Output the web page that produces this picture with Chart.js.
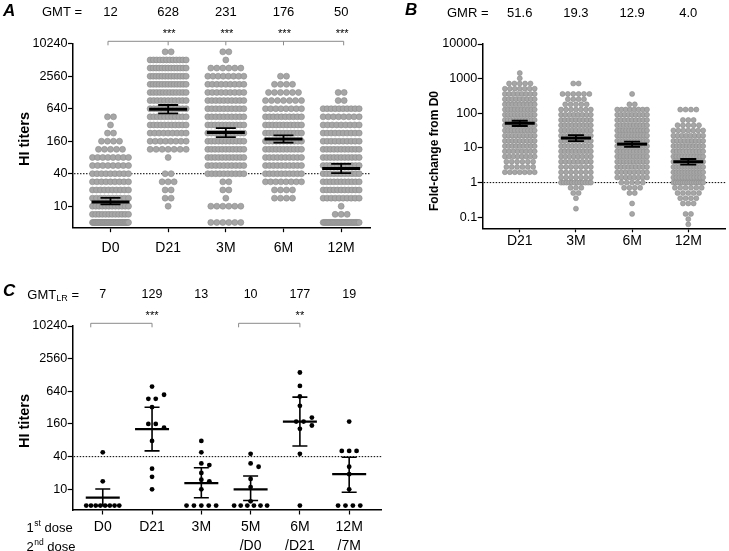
<!DOCTYPE html>
<html>
<head>
<meta charset="utf-8">
<script src="https://cdn.jsdelivr.net/npm/chart.js@4.4.1/dist/chart.umd.min.js"></script>
<style>
  body { margin: 0; background: #fff; }
  #wrap { position: relative; width: 729px; height: 551px; }
  #wrap canvas { position: absolute; left: 0; top: 0; }
</style>
</head>
<body>
<div id="wrap">
  <canvas id="chartA" width="729" height="551"></canvas>
  <canvas id="chartB" width="729" height="551"></canvas>
  <canvas id="chartC" width="729" height="551"></canvas>
</div>
<script>
'use strict';

const W = 729, H = 551;
const FONT = '"Liberation Sans", Arial, sans-serif';

// --- Panel A: HI titers per visit ---
const titerLevels = [5, 7.07, 10, 14.1, 20, 28.3, 40, 56.6, 80, 113, 160, 226, 320, 453, 640, 905, 1280, 1810, 2560, 3620, 5120, 7240, 10240];
const groupsA = ['D0', 'D21', '3M', '6M', '12M'];
const gmtA = [12, 628, 231, 176, 50];
const ciLowA = [10.8, 525, 190, 150, 41];
const ciHighA = [14.3, 750, 280, 205, 61];
const sigA = ['', '***', '***', '***', '***'];
const yTicksA = [10, 40, 160, 640, 2560, 10240];
// subjects per titer level (same order as titerLevels)
const countsA_D0  = [45, 12, 12, 10, 10, 9, 9, 8, 8, 5, 4, 2, 1, 2, 0, 0, 0, 0, 0, 0, 0, 0, 0];
const countsA_D21 = [0, 0, 1, 2, 2, 3, 2, 0, 1, 7, 8, 9, 11, 11, 11, 11, 12, 13, 13, 13, 12, 2, 0];
const countsA_3M  = [6, 0, 6, 1, 2, 2, 10, 10, 11, 11, 11, 11, 11, 10, 10, 10, 9, 9, 8, 6, 1, 2, 0];
const countsA_6M  = [0, 0, 0, 4, 4, 8, 10, 10, 10, 11, 11, 11, 11, 10, 8, 7, 6, 4, 2, 0, 0, 0, 0];
const countsA_12M = [30, 3, 1, 10, 11, 11, 11, 11, 11, 11, 10, 10, 9, 8, 10, 2, 2, 0, 0, 0, 0, 0, 0];

// --- Panel B: fold-change from D0 ---
const foldLevels = [0.0625, 0.0884, 0.125, 0.177, 0.25, 0.354, 0.5, 0.707, 1, 1.41, 2, 2.83, 4, 5.66, 8, 11.3, 16, 22.6, 32, 45.3, 64, 90.5, 128, 181, 256, 362, 512, 724, 1024, 1450];
const groupsB = ['D21', '3M', '6M', '12M'];
const gmrB = [51.6, 19.3, 12.9, 4.0];
const ciLowB = [43, 15.8, 10.8, 3.3];
const ciHighB = [61, 23.5, 15.3, 4.8];
const yTicksB = [0.1, 1, 10, 100, 1000, 10000];
const countsB_D21 = [0, 0, 0, 0, 0, 0, 0, 0, 0, 0, 7, 6, 6, 8, 8, 9, 9, 9, 10, 10, 11, 10, 10, 9, 9, 8, 7, 5, 1, 1];
const countsB_3M  = [0, 0, 0, 1, 0, 1, 2, 3, 12, 7, 7, 7, 8, 8, 9, 9, 9, 9, 9, 9, 9, 8, 7, 5, 4, 6, 0, 2, 0, 0];
const countsB_6M  = [0, 0, 1, 0, 1, 0, 2, 4, 5, 8, 8, 9, 10, 10, 10, 11, 11, 11, 11, 10, 9, 9, 8, 2, 0, 1, 0, 0, 0, 0];
const countsB_12M = [1, 1, 2, 0, 3, 4, 5, 6, 14, 11, 11, 11, 11, 11, 10, 10, 9, 8, 7, 5, 3, 0, 4, 0, 0, 0, 0, 0, 0, 0];

// --- Panel C: low responders, 1st / 2nd dose ---
const groupsC = [['D0'], ['D21'], ['3M'], ['5M', '/D0'], ['6M', '/D21'], ['12M', '/7M']];
const gmtC = [7, 129, 13, 10, 177, 19];
const ciLowC = [5, 51, 7, 6.2, 63, 8.8];
const ciHighC = [10.1, 325, 25, 17.6, 500, 39];
const yTicksC = [10, 40, 160, 640, 2560, 10240];
const titersC_D0  = [48, 14, 5, 5, 5, 5, 5, 5, 5, 5];
const titersC_D21 = [783, 553, 465, 465, 327, 160, 160, 137, 78, 24, 17, 10];
const titersC_3M  = [78, 48, 30, 28, 20, 15, 14, 10, 5, 5, 5, 5, 5];
const titersC_5M  = [45, 30, 26, 15.5, 11, 6, 5, 5, 5, 5, 5, 5];
const titersC_6M  = [1422, 806, 513, 345, 210, 177, 177, 150, 130, 45, 5];
const titersC_12M = [177, 51, 51, 51, 26, 19, 10, 5, 5, 5, 5];
const compareC = [[1, 2, '***'], [4, 5, '**']];

// --- Panel geometry (page pixels) ---
const geoA = { left: 73, right: 370, top: 43.7, bottom: 227.7, xMin: 0.35, xMax: 5.5, yMin: 4, yMax: 10240 };
const geoB = { left: 482.7, right: 728, top: 44, bottom: 228.3, xMin: 0.34, xMax: 4.67, yMin: 0.048, yMax: 10000 };
const geoC = { left: 72.7, right: 381.7, top: 326, bottom: 510, xMin: 0.39, xMax: 6.66, yMin: 4.15, yMax: 10240 };

function expand(levels, counts) {
  const out = [];
  counts.forEach((n, i) => { for (let k = 0; k < n; k++) out.push(levels[i]); });
  return out;
}

// scatter-dot layout: equal values sit in a centred row, lone points dodge neighbours
function layoutGroup(values, g, st) {
  const unit = (g.right - g.left) / (g.xMax - g.xMin);
  const ly = v => g.bottom - (Math.log(v) - Math.log(g.yMin)) / (Math.log(g.yMax) - Math.log(g.yMin)) * (g.bottom - g.top);
  const rows = new Map();
  values.forEach(v => rows.set(v, (rows.get(v) || 0) + 1));
  const order = [...rows.entries()].sort((a, b) => b[1] - a[1] || b[0] - a[0]);
  const placed = [];
  order.forEach(([v, n]) => {
    const s = n > 1 ? Math.min(st.gap, st.maxW / (n - 1)) : 0;
    const base = [];
    for (let i = 0; i < n; i++) base.push((i - (n - 1) / 2) * s);
    const y = ly(v);
    let shift = 0;
    if (st.swarm) {
      const cands = [0];
      for (let j = 1; j <= 3; j++) cands.push(j * st.swarm, -j * st.swarm);
      const ok = cands.find(c => base.every(b => placed.every(p =>
        Math.abs(p.y - y) >= st.dy || Math.abs(p.x - (b + c)) >= st.coll)));
      shift = ok === undefined ? 0 : ok;
    }
    base.forEach(b => placed.push({ x: b + shift, y, v }));
  });
  return placed.map(p => ({ x: p.x / unit, y: p.v }));
}

function buildPoints(groups, g, st) {
  const pts = [];
  groups.forEach((vals, gi) => {
    layoutGroup(vals, g, st).forEach(p => pts.push({ x: gi + 1 + p.x, y: p.y }));
  });
  return pts;
}

function drawText(ctx, text, x, y, font, align) {
  ctx.font = font;
  ctx.textAlign = align || 'center';
  ctx.textBaseline = 'middle';
  ctx.fillStyle = '#000';
  ctx.fillText(text, x, y);
}

function drawVText(ctx, text, x, y, font) {
  ctx.save();
  ctx.translate(x, y);
  ctx.rotate(-Math.PI / 2);
  drawText(ctx, text, 0, 0, font, 'center');
  ctx.restore();
}

function drawSup(ctx, x, y, num, sup, rest) {
  ctx.textAlign = 'left';
  ctx.textBaseline = 'middle';
  ctx.fillStyle = '#000';
  ctx.font = '13px ' + FONT;
  ctx.fillText(num, x, y);
  x += ctx.measureText(num).width;
  ctx.font = '8.5px ' + FONT;
  ctx.fillText(sup, x + 0.5, y - 4);
  x += ctx.measureText(sup).width + 0.5;
  ctx.font = '13px ' + FONT;
  ctx.fillText(rest, x, y);
}

function meanCI(chart, mean, lo, hi, st) {
  const ctx = chart.ctx, xs = chart.scales.x, ys = chart.scales.y;
  ctx.save();
  ctx.strokeStyle = '#000';
  mean.forEach((m, i) => {
    const x = xs.getPixelForValue(i + 1);
    const ym = ys.getPixelForValue(m), yl = ys.getPixelForValue(lo[i]), yh = ys.getPixelForValue(hi[i]);
    ctx.lineWidth = st.ciW;
    ctx.beginPath();
    ctx.moveTo(x, yl); ctx.lineTo(x, yh);
    ctx.moveTo(x - st.cap, yl); ctx.lineTo(x + st.cap, yl);
    ctx.moveTo(x - st.cap, yh); ctx.lineTo(x + st.cap, yh);
    ctx.stroke();
    ctx.lineWidth = st.meanW;
    ctx.beginPath();
    ctx.moveTo(x - st.half, ym); ctx.lineTo(x + st.half, ym);
    ctx.stroke();
  });
  ctx.restore();
}

function refLine(chart, value) {
  const ctx = chart.ctx, y = chart.scales.y.getPixelForValue(value);
  ctx.save();
  ctx.strokeStyle = '#000';
  ctx.lineWidth = 1;
  ctx.setLineDash([1.5, 1.5]);
  ctx.beginPath();
  ctx.moveTo(chart.chartArea.left + 1, y);
  ctx.lineTo(chart.chartArea.right, y);
  ctx.stroke();
  ctx.restore();
}

function bracket(ctx, x1, x2, y, ticks) {
  ctx.save();
  ctx.strokeStyle = '#8a8a8a';
  ctx.lineWidth = 1;
  ctx.beginPath();
  ctx.moveTo(x1, y); ctx.lineTo(x2, y);
  ticks.forEach(x => { ctx.moveTo(x, y); ctx.lineTo(x, y + 4); });
  ctx.stroke();
  ctx.restore();
}

function makeChart(id, g, pts, dot, xLabel, nGroups, yTicks, xt, plugin) {
  return new Chart(document.getElementById(id), {
    type: 'scatter',
    data: {
      datasets: [{
        data: pts,
        pointRadius: dot.r,
        pointHoverRadius: dot.r,
        backgroundColor: dot.fill,
        borderColor: dot.stroke,
        borderWidth: dot.bw
      }]
    },
    options: {
      responsive: false,
      animation: false,
      events: [],
      layout: { padding: { left: 0, top: g.top, right: W - g.right, bottom: 0 } },
      plugins: { legend: { display: false }, tooltip: { enabled: false } },
      scales: {
        x: {
          type: 'linear',
          position: 'bottom',
          min: g.xMin,
          max: g.xMax,
          afterFit: s => { s.height = H - g.bottom; },
          afterBuildTicks: s => { s.ticks = Array.from({ length: nGroups }, (_, i) => ({ value: i + 1 })); },
          ticks: {
            callback: v => xLabel(Math.round(v) - 1),
            color: '#000',
            font: { family: FONT, size: 14, lineHeight: xt.lh },
            padding: xt.pad,
            maxRotation: 0,
            autoSkip: false
          },
          grid: { drawOnChartArea: false, tickLength: xt.tl, tickColor: '#000', tickWidth: 1.2 },
          border: { color: '#000', width: 1.5 }
        },
        y: {
          type: 'logarithmic',
          min: g.yMin,
          max: g.yMax,
          afterFit: s => { s.width = g.left; },
          afterBuildTicks: s => { s.ticks = yTicks.map(v => ({ value: v })); },
          ticks: {
            callback: v => String(v),
            color: '#000',
            font: { family: FONT, size: 12.6 },
            padding: 0.5
          },
          grid: { drawOnChartArea: false, tickLength: 5, tickColor: '#000', tickWidth: 1.2 },
          border: { color: '#000', width: 1.5 }
        }
      }
    },
    plugins: [plugin]
  });
}

const grayDot = { r: 3, fill: 'rgb(166,166,166)', stroke: 'rgb(140,140,140)', bw: 0.6 };

// --- Panel A ---
const valuesA = [countsA_D0, countsA_D21, countsA_3M, countsA_6M, countsA_12M].map(c => expand(titerLevels, c));
const pointsA = buildPoints(valuesA, geoA, { gap: 6, maxW: 36, swarm: 0 });
makeChart('chartA', geoA, pointsA, grayDot, i => groupsA[i], groupsA.length, yTicksA, { lh: 1.2, pad: 8, tl: 4.5 }, {
  id: 'overlayA',
  beforeDatasetsDraw: chart => refLine(chart, 40),
  afterDatasetsDraw: chart => meanCI(chart, gmtA, ciLowA, ciHighA, { half: 19, cap: 10, meanW: 3, ciW: 1.8 }),
  afterDraw: chart => {
    const ctx = chart.ctx, xs = chart.scales.x;
    drawText(ctx, 'A', 3, 11, 'italic bold 17px ' + FONT, 'left');
    drawText(ctx, 'GMT =', 42, 12.5, '13px ' + FONT, 'left');
    const gx = groupsA.map((_, i) => xs.getPixelForValue(i + 1));
    gmtA.forEach((v, i) => drawText(ctx, String(v), gx[i], 12.5, '13px ' + FONT));
    sigA.forEach((s, i) => { if (s) drawText(ctx, s, gx[i] + 1, 33.5, '11px ' + FONT); });
    bracket(ctx, gx[0] - 2.5, gx[4] + 2.5, 41.3, [gx[0] - 2.5, gx[1], gx[2], gx[3], gx[4] + 2.5]);
    drawVText(ctx, 'HI titers', 25, 139, 'bold 14.5px ' + FONT);
  }
});

// --- Panel B ---
const valuesB = [countsB_D21, countsB_3M, countsB_6M, countsB_12M].map(c => expand(foldLevels, c));
const pointsB = buildPoints(valuesB, geoB, { gap: 5.4, maxW: 30, swarm: 0 });
makeChart('chartB', geoB, pointsB, { r: 2.5, fill: grayDot.fill, stroke: grayDot.stroke, bw: 0.6 }, i => groupsB[i], groupsB.length, yTicksB, { lh: 1.2, pad: 0, tl: 4 }, {
  id: 'overlayB',
  beforeDatasetsDraw: chart => refLine(chart, 1),
  afterDatasetsDraw: chart => meanCI(chart, gmrB, ciLowB, ciHighB, { half: 15, cap: 8, meanW: 3, ciW: 1.8 }),
  afterDraw: chart => {
    const ctx = chart.ctx, xs = chart.scales.x;
    drawText(ctx, 'B', 405, 10.5, 'italic bold 17px ' + FONT, 'left');
    drawText(ctx, 'GMR =', 447, 13, '13px ' + FONT, 'left');
    gmrB.forEach((v, i) => drawText(ctx, v.toFixed(1), xs.getPixelForValue(i + 1), 13, '13px ' + FONT));
    drawVText(ctx, 'Fold-change from D0', 435, 151, 'bold 12px ' + FONT);
  }
});

// --- Panel C ---
const valuesC = [titersC_D0, titersC_D21, titersC_3M, titersC_5M, titersC_6M, titersC_12M];
const pointsC = buildPoints(valuesC, geoC, { gap: 7.4, maxW: 33, swarm: 4, dy: 5, coll: 5 });
makeChart('chartC', geoC, pointsC, { r: 2.4, fill: '#000', stroke: '#000', bw: 0 }, i => groupsC[i], groupsC.length, yTicksC, { lh: 1.36, pad: 3.5, tl: 4.5 }, {
  id: 'overlayC',
  beforeDatasetsDraw: chart => refLine(chart, 40),
  afterDatasetsDraw: chart => meanCI(chart, gmtC, ciLowC, ciHighC, { half: 17, cap: 7.5, meanW: 2.2, ciW: 1.6 }),
  afterDraw: chart => {
    const ctx = chart.ctx, xs = chart.scales.x;
    drawText(ctx, 'C', 3, 291, 'italic bold 17px ' + FONT, 'left');
    drawText(ctx, 'GMT', 27.3, 295, '13px ' + FONT, 'left');
    ctx.font = '13px ' + FONT;
    const w = ctx.measureText('GMT').width;
    drawText(ctx, 'LR', 27.3 + w, 299, '9px ' + FONT, 'left');
    drawText(ctx, '=', 71.5, 295, '13px ' + FONT, 'left');
    gmtC.forEach((v, i) => drawText(ctx, String(v), xs.getPixelForValue(i + 1), 295, '12.5px ' + FONT));
    compareC.forEach(([a, b, s]) => {
      const x1 = xs.getPixelForValue(a) - 12, x2 = xs.getPixelForValue(b);
      bracket(ctx, x1, x2, 323.3, [x1, x2]);
      drawText(ctx, s, x2, 315.5, '11px ' + FONT);
    });
    drawVText(ctx, 'HI titers', 25, 421, 'bold 14.5px ' + FONT);
    drawSup(ctx, 26.5, 528, '1', 'st', ' dose');
    drawSup(ctx, 26.5, 547, '2', 'nd', ' dose');
  }
});
</script>
</body>
</html>
